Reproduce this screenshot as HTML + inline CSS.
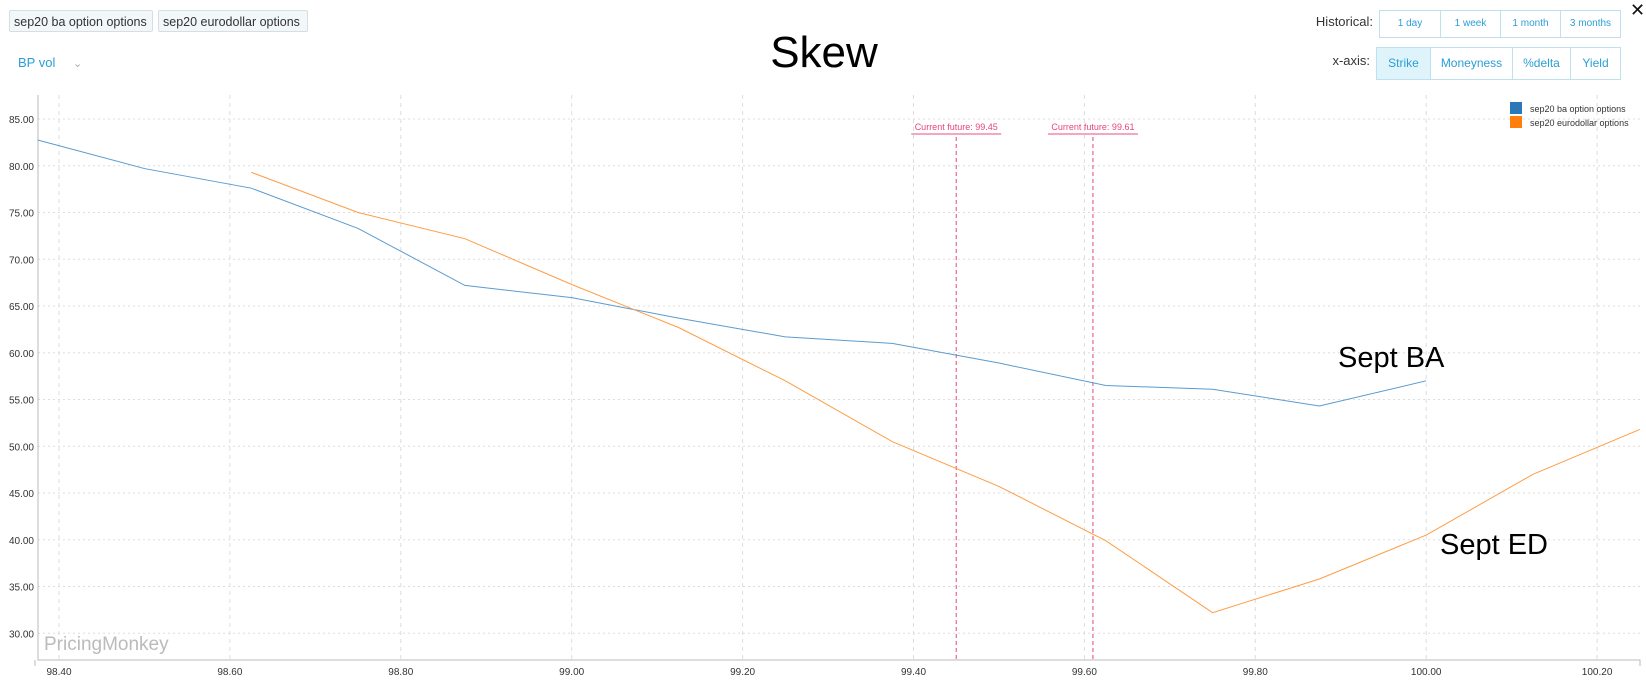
<!DOCTYPE html>
<html><head><meta charset="utf-8"><style>
body{margin:0;width:1646px;height:690px;background:#fff;font-family:"Liberation Sans",sans-serif;position:relative;overflow:hidden}
.chip{position:absolute;top:10px;height:22px;border:1px solid #d6dde3;background:#f2f7fa;border-radius:2px;font-size:12.5px;color:#333;line-height:22px;padding:0 4px;box-sizing:border-box}
.grp{position:absolute;display:flex;border:1px solid #bfe0ef}
.grp div{border-right:1px solid #bfe0ef;color:#2a9fd6;text-align:center;box-sizing:border-box}
.grp div:last-child{border-right:none}
.lbl{position:absolute;font-size:13px;color:#333;text-align:right}
</style></head><body>
<div class="chip" style="left:9px;width:144px">sep20 ba option options</div>
<div class="chip" style="left:158px;width:150px">sep20 eurodollar options</div>
<div style="position:absolute;left:18px;top:55px;font-size:13px;color:#2a9fd6">BP vol <span style="color:#aaa;margin-left:14px;font-size:11px">&#8964;</span></div>
<div style="position:absolute;left:724px;top:28px;width:200px;text-align:center;font-size:44px;color:#000">Skew</div>
<div class="lbl" style="left:1270px;top:14px;width:103px">Historical:</div>
<div class="grp" style="left:1379px;top:10px;height:26px;font-size:10px;line-height:26px">
<div style="width:61px">1 day</div>
<div style="width:60px">1 week</div>
<div style="width:60px">1 month</div>
<div style="width:59px">3 months</div></div>
<div class="lbl" style="left:1270px;top:53px;width:100px">x-axis:</div>
<div class="grp" style="left:1376px;top:47px;height:31px;font-size:12px;line-height:31px">
<div style="width:54px;background:#dff3fb">Strike</div>
<div style="width:82px">Moneyness</div>
<div style="width:58px">%delta</div>
<div style="width:49px">Yield</div></div>
<div style="position:absolute;left:1630px;top:0px;font-size:18px;color:#111">&#10005;</div>
<svg id="chart" width="1646" height="690" style="position:absolute;left:0;top:0"></svg>
<script>
const yTicks=[30,35,40,45,50,55,60,65,70,75,80,85];
const xTicks=[98.4,98.6,98.8,99.0,99.2,99.4,99.6,99.8,100.0,100.2];
const baStrikes=[98.375,98.5,98.625,98.75,98.875,99.0,99.125,99.25,99.375,99.5,99.625,99.75,99.875,100.0];
const baVols=[82.75,79.7,77.6,73.3,67.2,65.9,63.7,61.7,61.0,58.9,56.5,56.1,54.3,57.0];
const edStrikes=[98.625,98.75,98.875,99.0,99.125,99.25,99.375,99.5,99.625,99.75,99.875,100.0,100.125,100.25];
const edVols=[79.3,75.0,72.2,67.3,62.7,57.0,50.5,45.7,39.9,32.2,35.8,40.5,47.0,51.8];
const futures=[99.45,99.61];
const seriesNames=["sep20 ba option options","sep20 eurodollar options"];
const NS="http://www.w3.org/2000/svg",svg=document.getElementById('chart');
const X0=38,X1=1640,Y0=95,Y1=660;
const x=v=>59+(v-98.4)*854.5;
const y=v=>119+(85-v)*9.35;
function el(t,a,p){const e=document.createElementNS(NS,t);for(const k in a)e.setAttribute(k,a[k]);(p||svg).appendChild(e);return e;}
yTicks.forEach(v=>{
 const g=el('line',{x1:X0,x2:X1,y1:y(v),y2:y(v),stroke:'#ddd','stroke-dasharray':'2,3'});
 
 
 const t=el('text',{x:34,y:y(v)+4,'text-anchor':'end','font-size':10,fill:'#333'});t.textContent=v.toFixed(2);
 
 
});
xTicks.forEach(v=>{
 const g=el('line',{x1:x(v),x2:x(v),y1:Y0,y2:Y1,stroke:'#ddd','stroke-dasharray':'4,4'});
 
 
 const t=el('text',{x:x(v),y:Y1+15,'text-anchor':'middle','font-size':10,fill:'#333'});t.textContent=v.toFixed(2);
 
 
});
const ax=el('path',{d:`M${X0},${Y0}V${Y1}H${X1}V${Y1+6}M${X0-3},${Y1}V${Y1+6}`,stroke:'#bbb',fill:'none'});


const wm=el('text',{x:44,y:650,'font-size':19,fill:'#bbb'});wm.textContent='PricingMonkey';


futures.forEach(f=>{
 const l=el('line',{x1:x(f),x2:x(f),y1:137,y2:Y1,stroke:'#e8457a','stroke-dasharray':'4,3'});
 
 
 const t=el('text',{x:x(f),y:130,'text-anchor':'middle','font-size':9,fill:'#e8457a'});t.textContent='Current future: '+f.toFixed(2);
 
 
 const u=el('line',{x1:x(f)-45,x2:x(f)+45,y1:134,y2:134,stroke:'#f08aaa','stroke-width':1.5});
 
 
});
function series(xs,ys,c,n){const p=el('polyline',{points:xs.map((s,i)=>x(s)+','+y(ys[i])).join(' '),fill:'none',stroke:c,'stroke-width':1});
 
 }
series(baStrikes,baVols,'#5b9bd0','ba-series-line');
series(edStrikes,edVols,'#ff9c45','eurodollar-series-line');
const cols=['#2a78b8','#ff7f0e'];
seriesNames.forEach((n,i)=>{
 const r=el('rect',{x:1510,y:102+i*14,width:12,height:12,fill:cols[i]});
 
 
 const t=el('text',{x:1530,y:112+i*14,'font-size':9,fill:'#333'});t.textContent=n;
 
 
});
[['Sept BA',1338,367],['Sept ED',1440,554]].forEach(a=>{
 const t=el('text',{x:a[1],y:a[2],'font-size':29,fill:'#000'});t.textContent=a[0];
 
 
});
</script>
</body></html>
